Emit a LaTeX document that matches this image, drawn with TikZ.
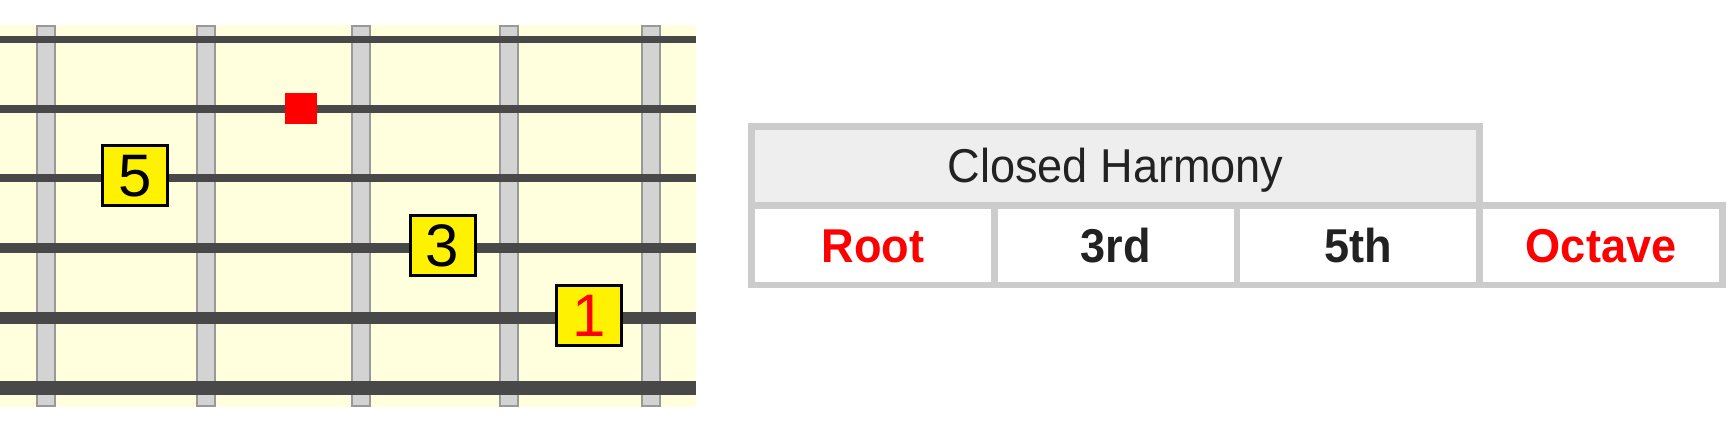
\documentclass[tikz,border=0pt]{standalone}
\usepackage{fontspec}
\setmainfont{Liberation Sans}
\newfontfamily\tabfont[FakeStretch=0.95]{Liberation Sans}
\definecolor{board}{HTML}{FFFFDD}
\definecolor{fretgray}{HTML}{D3D3D3}
\definecolor{fretedge}{HTML}{999999}
\definecolor{strgray}{HTML}{484848}
\definecolor{boxyellow}{HTML}{FFF200}
\definecolor{cellgray}{HTML}{CCCCCC}
\definecolor{headfill}{HTML}{EEEEEE}
\definecolor{txtdark}{HTML}{222222}
\begin{document}
\begin{tikzpicture}[x=1pt, y=-1pt,
  fret/.style={fill=fretgray, draw=fretedge, line width=2pt},
  gstring/.style={strgray},
  note/.style={draw=black, line width=3pt, fill=boxyellow, minimum width=65pt, minimum height=60pt, inner sep=0pt, font=\fontsize{60}{60}\selectfont},
  cell/.style={draw=cellgray, line width=6.5pt, minimum width=242.75pt, minimum height=79.2pt, inner sep=0pt, text height=34pt, text depth=0pt, font=\tabfont\fontsize{47.5}{56}\selectfont\bfseries}]
  \useasboundingbox (0,0) rectangle (1730,422);
  % fretboard
  \fill[board] (0,25) rectangle (696,407);
  \draw[fret] (37,26) rectangle (55,406);
  \draw[fret] (197,26) rectangle (215,406);
  \draw[fret] (352,26) rectangle (370,406);
  \draw[fret] (500,26) rectangle (518,406);
  \draw[fret] (642,26) rectangle (660,406);
  \draw[gstring, line width=7.3pt] (0,39.5) -- (696,39.5);
  \draw[gstring, line width=7.6pt] (0,109) -- (696,109);
  \draw[gstring, line width=8.6pt] (0,178.2) -- (696,178.2);
  \draw[gstring, line width=10.3pt] (0,248) -- (696,248);
  \draw[gstring, line width=12.3pt] (0,318.2) -- (696,318.2);
  \draw[gstring, line width=14.6pt] (0,388) -- (696,388);
  \node[fill=red, minimum width=32pt, minimum height=31pt, inner sep=0pt] (mute) at (300.5,108.5) {};
  \node[note] (fifth) at (135.2,175.8) {5};
  \node[note] (third) at (442.5,245.5) {3};
  \node[note, text=red] (root) at (589,315.5) {1};
  % table
  \node[cell, fill=headfill, minimum width=728.25pt, text=txtdark, font=\tabfont\fontsize{47.5}{56}\selectfont] (head) at (1115.6,166) {Closed Harmony};
  \node[cell, text=red] (croot) at (872.9,245.25) {Root};
  \node[cell, text=txtdark] (cthird) at (1115.6,245.25) {3rd};
  \node[cell, text=txtdark] (cfifth) at (1358.4,245.25) {5th};
  \node[cell, text=red] (coct) at (1601.1,245.25) {Octave};
\end{tikzpicture}
\end{document}
